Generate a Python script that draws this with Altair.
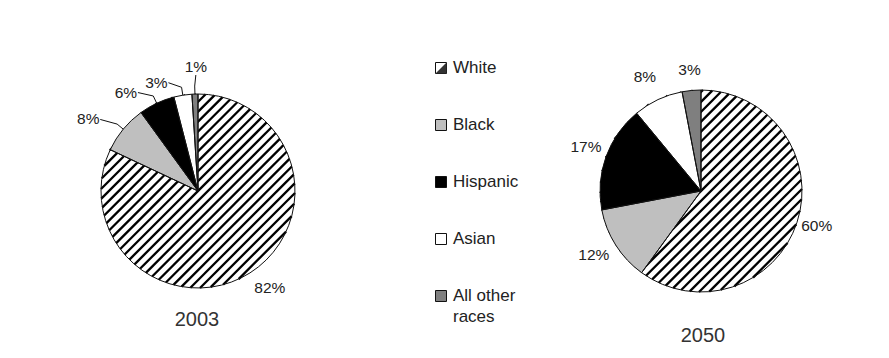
import math

import altair as alt
import pandas as pd

# ---- data -----------------------------------------------------------------
races = ["White", "Black", "Hispanic", "Asian", "All other races"]
share_2003 = [82, 8, 6, 3, 1]
share_2050 = [60, 12, 17, 8, 3]
years = ["2003", "2050"]
slice_fill = ["#ffffff", "#bfbfbf", "#000000", "#ffffff", "#7f7f7f"]

# ---- layout (pixels / degrees) ---------------------------------------------
PIES = {
    "2003": dict(cx=198, cy=191, r=97, title_y=320,
                 turn=[-4, -6.5, -11, -12, 0.8],
                 gap=[24, 34, 25, 19, 27],
                 leader=[0, 1, 1, 1, 1]),
    "2050": dict(cx=701, cy=191, r=101, title_y=336,
                 turn=[-1, 1.4, 1, -1, 0],
                 gap=[20, 24, 22, 26, 21],
                 leader=[0, 0, 0, 0, 0]),
}
TITLE_X = {"2003": 197, "2050": 703}
HATCH_STEP = 7.0
FONT = "Liberation Sans"
W, H = 889, 358

shares = {"2003": share_2003, "2050": share_2050}
rows = []
for yr in years:
    for i, race in enumerate(races):
        rows.append(dict(year=yr, race=race, order=i, share=shares[yr][i],
                         turn=PIES[yr]["turn"][i], gap=PIES[yr]["gap"][i],
                         leader=PIES[yr]["leader"][i]))
table = pd.DataFrame(rows)

theta_scale = alt.Scale(domain=[0, 100], range=[0, 2 * math.pi])
fill_scale = alt.Scale(domain=races, range=slice_fill)


def pie_layers(yr):
    p = PIES[yr]
    cx, cy, r = p["cx"], p["cy"], p["r"]

    base = (
        alt.Chart(table)
        .transform_filter(alt.datum.year == yr)
        .transform_window(end="sum(share)", sort=[alt.SortField("order")],
                          frame=[None, 0])
        .transform_calculate(
            start="datum.end - datum.share",
            label="datum.share + '%'",
            mid="(datum.end - datum.share / 2) * 2 * PI / 100",
        )
        .transform_calculate(la="datum.mid + datum.turn * PI / 180")
        .transform_calculate(
            ex=f"{cx} + {r} * sin(datum.mid)",
            ey=f"{cy} - {r} * cos(datum.mid)",
            kx=f"{cx} + {r + 8} * sin(datum.mid)",
            ky=f"{cy} - {r + 8} * cos(datum.mid)",
            lx=f"{cx} + ({r} + datum.gap) * sin(datum.la)",
            ly=f"{cy} - ({r} + datum.gap) * cos(datum.la)",
        )
        .transform_calculate(
            tx="abs(sin(datum.la)) > 0.3 ? datum.lx + (sin(datum.la) < 0 ? 12 : -12) : datum.lx",
            ty="abs(sin(datum.la)) > 0.3 ? datum.ly : datum.ly + 8",
        )
    )

    # diagonal hatching over the whole disc; the other slices are painted over it
    hatch = (
        alt.Chart(alt.sequence(-25, 26, as_="i"))
        .transform_calculate(d=f"datum.i * {HATCH_STEP}")
        .transform_filter(f"abs(datum.d) < {r - 0.8}")
        .transform_calculate(h=f"sqrt({r * r} - datum.d * datum.d)")
        .transform_calculate(
            x1=f"{cx} + (datum.d - datum.h) / SQRT2",
            y1=f"{cy} + (datum.d + datum.h) / SQRT2",
            x2=f"{cx} + (datum.d + datum.h) / SQRT2",
            y2=f"{cy} + (datum.d - datum.h) / SQRT2",
        )
        .mark_rule(color="#000000", strokeWidth=2.3, strokeCap="butt")
        .encode(x=alt.X("x1:Q", scale=None), y=alt.Y("y1:Q", scale=None),
                x2="x2:Q", y2="y2:Q")
    )

    arc_enc = dict(
        x=alt.value(cx), y=alt.value(cy),
        theta=alt.Theta("start:Q", stack=None, scale=theta_scale),
        theta2=alt.Theta2("end:Q"),
    )

    solid = (
        base.transform_filter(alt.datum.race != "White")
        .mark_arc(outerRadius=r, strokeWidth=0)
        .encode(color=alt.Color("race:N", scale=fill_scale, legend=None), **arc_enc)
    )

    outline = base.mark_arc(outerRadius=r, fill="transparent", stroke="#111111",
                            strokeWidth=1).encode(**arc_enc)

    labels = base.mark_text(font=FONT, fontSize=15.5, color="#222222",
                            align="center", baseline="middle").encode(
        x=alt.X("lx:Q", scale=None), y=alt.Y("ly:Q", scale=None), text="label:N")

    lead1 = base.transform_filter(alt.datum.leader == 1).mark_rule(
        color="#111111", strokeWidth=1).encode(
        x=alt.X("ex:Q", scale=None), y=alt.Y("ey:Q", scale=None),
        x2="kx:Q", y2="ky:Q")
    lead2 = base.transform_filter(alt.datum.leader == 1).mark_rule(
        color="#111111", strokeWidth=1).encode(
        x=alt.X("kx:Q", scale=None), y=alt.Y("ky:Q", scale=None),
        x2="tx:Q", y2="ty:Q")

    title = alt.Chart(pd.DataFrame({"year": [yr]})).mark_text(
        font=FONT, fontSize=20, color="#333333", align="center",
        baseline="middle").encode(
        x=alt.value(TITLE_X[yr]), y=alt.value(p["title_y"]), text="year:N")

    return [hatch, solid, outline, lead1, lead2, labels, title]


# ---- legend ----------------------------------------------------------------
legend_df = pd.DataFrame({"race": races, "order": list(range(len(races)))})
legend_y = alt.Y("race:N", scale=alt.Scale(domain=races, range=[68, 296], padding=0),
                 axis=None)

legend_box = alt.Chart(legend_df).mark_square(
    size=121, stroke="#111111", strokeWidth=1, opacity=1).encode(
    x=alt.value(441), y=legend_y,
    color=alt.Color("race:N", scale=fill_scale, legend=None))

legend_hatch = alt.Chart(legend_df).transform_filter(alt.datum.race == "White").mark_point(
    shape="M1,-1L1,1L-1,1Z", size=121, filled=True, color="#333333", opacity=1).encode(
    x=alt.value(441), y=legend_y)

legend_text = alt.Chart(legend_df).transform_calculate(
    name="replace(datum.race, 'other ', 'other\\n')").mark_text(
    font=FONT, fontSize=17, color="#222222", align="left", baseline="top",
    dy=-8, lineBreak="\n", lineHeight=21).encode(
    x=alt.value(453), y=legend_y, text="name:N")

layers = pie_layers("2003") + pie_layers("2050") + [legend_box, legend_hatch, legend_text]

chart = (
    alt.layer(*layers)
    .resolve_scale(y="independent", x="independent")
    .properties(width=W, height=H, padding=0, autosize="none", background="#ffffff")
    .configure_view(stroke=None)
)

chart.save("out.html", embed_options={"renderer": "svg", "actions": False})
